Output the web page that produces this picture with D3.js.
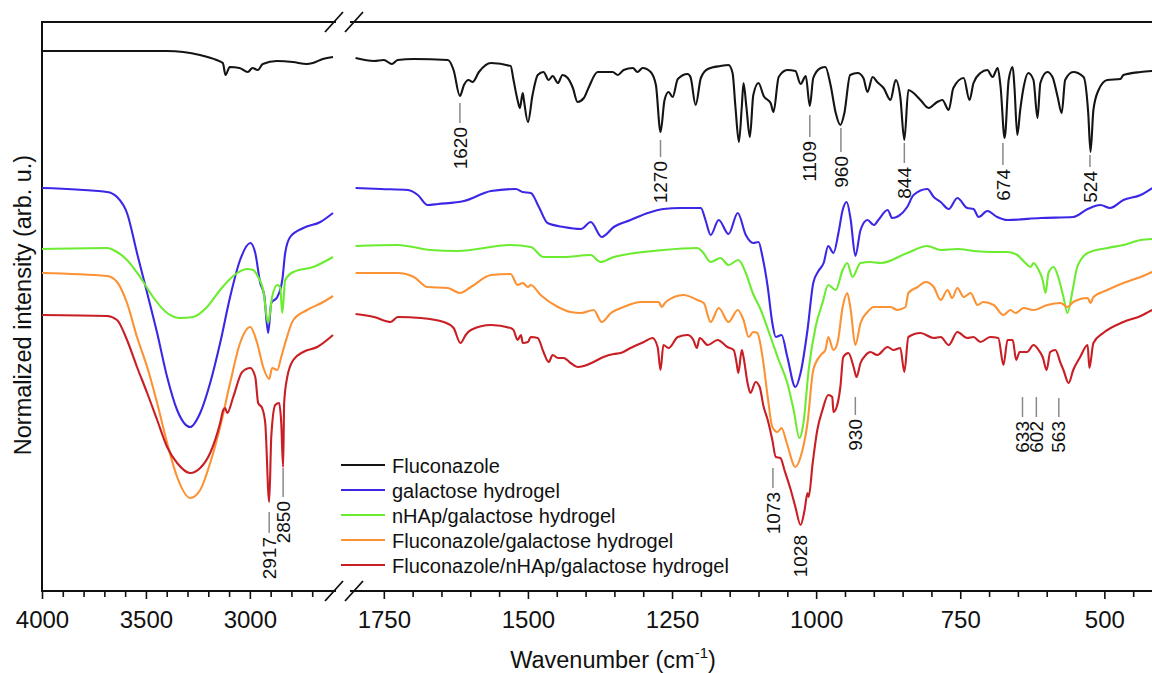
<!DOCTYPE html>
<html>
<head>
<meta charset="utf-8">
<script src="https://cdn.jsdelivr.net/npm/d3@7"></script>
<style>
  body { margin: 0; background: #fff; }
  svg { display: block; font-family: "Liberation Sans", Arial, sans-serif; }
  .tick text { font-size: 24px; fill: #111; }
  .tick line { stroke: #111; stroke-width: 1.6; }
</style>
</head>
<body>
<div id="chart"></div>
<script>
var width = 1152;
var height = 673;

// wavenumber (cm-1), normalized intensity (arb. u.)
var fluconazoleLeft = [[4000,53.9],[3400,53.9],[3240,53.5],[3160,53.0],[3130,52.7],[3117,51.5],[3097,52.3],[3050,52.2],[3010,51.8],[2987,52.2],[2962,52.0],[2938,52.6],[2870,52.9],[2793,52.8],[2726,52.6],[2697,52.7],[2649,53.1],[2600,53.3]];
var fluconazoleRight = [[1799,53.2],[1767,52.9],[1750,53.0],[1736,52.6],[1726,53.0],[1698,53.1],[1639,53.0],[1629,52.0],[1618,49.4],[1611,50.5],[1603,51.0],[1596,50.8],[1585,51.8],[1564,52.7],[1530,52.4],[1525,51.0],[1518,49.0],[1514,48.2],[1509,49.7],[1507,49.0],[1500,46.8],[1492,49.5],[1483,51.5],[1473,51.8],[1464,51.0],[1457,51.4],[1448,50.7],[1440,51.5],[1431,51.2],[1422,50.2],[1414,48.8],[1403,49.2],[1395,50.2],[1379,51.8],[1369,51.8],[1353,51.8],[1344,51.5],[1334,52.0],[1318,52.2],[1310,51.8],[1301,52.2],[1287,51.8],[1278,50.5],[1270,45.8],[1263,49.0],[1256,49.8],[1249,49.3],[1240,51.1],[1223,51.6],[1218,51.3],[1209,48.5],[1200,51.2],[1188,52.1],[1166,52.4],[1152,52.5],[1145,51.7],[1140,48.3],[1134,44.8],[1129,48.3],[1126,50.7],[1121,48.3],[1115,45.3],[1109,49.5],[1100,50.7],[1091,49.4],[1079,48.7],[1074,47.8],[1065,51.3],[1050,52.0],[1036,51.9],[1027,50.6],[1018,51.4],[1011,48.4],[1005,51.2],[992,52.2],[984,52.3],[975,50.5],[966,47.7],[958,46.5],[951,47.7],[941,51.5],[928,51.7],[918,51.2],[911,49.8],[902,51.3],[894,50.8],[883,50.2],[871,49.0],[862,51.0],[854,49.3],[847,45.0],[840,50.0],[831,49.7],[819,49.0],[805,48.2],[790,48.8],[781,49.0],[770,48.0],[762,50.2],[744,51.2],[734,49.0],[727,50.7],[715,51.7],[703,52.0],[694,51.3],[685,52.2],[680,50.3],[673,45.2],[666,51.0],[659,52.3],[656,50.3],[651,45.5],[646,48.0],[640,50.3],[632,51.7],[623,51.0],[616,47.2],[611,50.7],[599,51.8],[590,51.3],[581,49.3],[574,47.7],[568,51.0],[554,51.8],[536,51.3],[528,47.7],[524,43.8],[519,48.0],[510,50.0],[495,51.0],[472,51.1],[467,51.5],[437,51.8],[417,51.9]];

var galactoseLeft = [[4000,40.2],[3687,39.8],[3639,39.3],[3591,37.7],[3543,33.7],[3494,29.7],[3446,25.7],[3398,21.3],[3350,18.0],[3287,16.3],[3239,17.7],[3191,20.7],[3143,24.7],[3095,29.3],[3047,33.0],[2998,34.7],[2974,33.7],[2950,30.7],[2931,29.5],[2912,25.7],[2897,28.7],[2868,29.3],[2844,31.0],[2830,33.7],[2806,35.3],[2743,36.2],[2661,36.8],[2600,37.7]];
var galactoseRight = [[1799,40.2],[1755,40.1],[1708,40.0],[1691,39.5],[1674,38.5],[1656,38.6],[1611,38.9],[1564,39.9],[1521,40.1],[1509,39.8],[1495,39.7],[1481,38.3],[1466,36.7],[1438,36.3],[1408,36.1],[1391,36.8],[1372,35.3],[1351,36.3],[1322,37.0],[1292,37.7],[1265,38.1],[1235,38.2],[1200,38.2],[1192,37.0],[1183,35.5],[1169,37.0],[1152,35.6],[1136,37.7],[1122,35.5],[1109,34.7],[1100,34.8],[1093,33.3],[1084,30.3],[1076,26.7],[1070,25.3],[1060,25.5],[1050,23.3],[1036,20.3],[1027,21.7],[1015,26.0],[1005,30.7],[996,31.9],[987,32.7],[979,34.4],[970,33.7],[961,35.8],[954,38.0],[947,38.8],[940,37.0],[932,33.4],[923,36.0],[911,37.0],[900,36.5],[892,37.0],[876,38.0],[868,37.2],[857,37.4],[842,38.3],[831,39.5],[807,40.1],[796,39.3],[784,38.8],[770,38.1],[755,39.2],[738,38.2],[727,38.1],[718,37.3],[703,37.9],[686,37.3],[668,37.0],[611,37.2],[554,37.3],[529,38.1],[507,38.5],[490,38.2],[467,39.0],[437,39.5],[417,40.2]];

var nhapLeft = [[4000,34.1],[3687,34.2],[3639,33.8],[3591,33.0],[3528,31.3],[3466,29.3],[3398,27.7],[3336,27.2],[3273,27.3],[3206,28.3],[3143,30.0],[3080,31.4],[3013,32.1],[2984,32.0],[2960,31.3],[2936,30.0],[2912,26.7],[2893,29.3],[2868,30.5],[2854,30.3],[2844,27.7],[2830,31.0],[2791,31.8],[2695,32.3],[2600,33.3]];
var nhapRight = [[1799,34.4],[1726,34.5],[1669,34.0],[1622,33.9],[1530,34.5],[1495,34.3],[1473,33.3],[1438,33.3],[1391,33.5],[1374,32.8],[1351,33.3],[1265,34.0],[1206,34.2],[1197,33.8],[1183,32.8],[1166,33.2],[1152,32.5],[1135,33.0],[1122,31.7],[1110,29.7],[1096,28.0],[1079,25.3],[1065,23.0],[1050,20.7],[1039,18.0],[1029,15.2],[1022,16.7],[1013,22.0],[1001,26.3],[989,28.7],[979,30.5],[966,30.0],[954,32.0],[946,32.7],[937,31.3],[923,32.7],[906,32.8],[888,32.7],[842,33.7],[807,34.4],[784,34.0],[755,34.1],[727,33.9],[692,33.8],[668,33.8],[651,33.5],[637,32.7],[628,32.3],[623,32.7],[614,32.0],[607,31.0],[602,29.7],[597,31.7],[588,32.3],[580,31.3],[571,29.3],[564,27.7],[555,30.0],[547,32.3],[529,33.7],[495,34.2],[467,34.5],[437,35.0],[417,35.1]];

var flucoGelLeft = [[4000,31.7],[3687,31.4],[3639,30.8],[3591,28.7],[3543,25.3],[3494,22.3],[3446,18.7],[3398,14.7],[3350,11.3],[3287,9.2],[3239,10.0],[3191,12.7],[3143,16.3],[3095,20.7],[3047,24.7],[2998,26.3],[2965,24.7],[2936,22.3],[2907,21.1],[2893,22.2],[2868,22.0],[2849,23.3],[2830,24.7],[2791,27.0],[2724,28.0],[2647,28.8],[2600,29.4]];
var flucoGelRight = [[1799,31.7],[1726,31.7],[1698,31.3],[1674,30.3],[1639,30.2],[1618,29.7],[1599,30.3],[1564,31.5],[1530,31.6],[1518,30.5],[1509,30.7],[1500,30.3],[1495,30.5],[1478,29.5],[1448,28.3],[1426,27.8],[1408,27.7],[1386,28.0],[1372,26.8],[1356,27.7],[1334,28.3],[1304,28.8],[1273,28.8],[1268,28.3],[1261,28.8],[1230,29.5],[1206,29.0],[1195,28.7],[1183,26.8],[1169,28.2],[1152,26.8],[1136,28.0],[1126,27.0],[1117,25.3],[1109,25.8],[1102,25.7],[1093,23.3],[1084,19.3],[1076,16.3],[1067,15.8],[1060,16.2],[1051,14.7],[1036,12.3],[1027,13.3],[1015,16.7],[1005,22.0],[992,23.5],[984,24.0],[979,25.3],[970,24.0],[963,24.7],[954,28.3],[946,29.7],[940,28.0],[932,24.5],[923,26.7],[911,27.8],[900,28.3],[871,28.3],[859,28.0],[845,28.3],[840,29.7],[824,30.3],[810,30.8],[796,30.3],[784,29.0],[772,30.0],[764,29.2],[755,30.2],[744,29.3],[732,29.7],[720,28.5],[710,28.8],[692,28.5],[675,27.5],[663,28.0],[654,27.7],[640,28.2],[623,28.0],[599,28.5],[576,28.7],[564,28.3],[554,28.8],[529,29.2],[524,28.7],[519,29.3],[495,30.0],[467,30.7],[437,31.3],[417,31.8]];

var flucoNhapLeft = [[4000,27.5],[3687,27.4],[3639,27.0],[3591,25.0],[3543,22.3],[3494,19.7],[3446,17.0],[3398,14.3],[3350,12.7],[3287,11.7],[3239,12.2],[3191,13.7],[3143,16.7],[3128,18.0],[3119,18.2],[3109,17.7],[3080,19.3],[3037,21.8],[2998,22.2],[2974,21.3],[2960,18.7],[2941,18.2],[2926,16.7],[2907,8.8],[2897,15.3],[2878,18.5],[2859,18.7],[2849,16.7],[2840,12.3],[2835,18.7],[2820,21.3],[2791,23.0],[2743,23.8],[2676,24.3],[2600,25.5]];
var flucoNhapRight = [[1799,27.6],[1767,27.3],[1738,26.8],[1726,27.3],[1686,27.2],[1646,26.8],[1629,26.2],[1617,24.7],[1608,25.5],[1599,26.0],[1564,26.5],[1530,26.2],[1525,26.0],[1518,25.0],[1512,25.5],[1509,24.7],[1500,24.8],[1495,25.3],[1483,25.2],[1473,23.8],[1464,22.8],[1457,23.5],[1448,23.2],[1438,23.2],[1426,22.7],[1414,22.3],[1403,22.4],[1386,22.8],[1369,23.3],[1351,23.6],[1339,23.7],[1322,24.2],[1299,24.8],[1284,25.2],[1275,24.3],[1270,22.0],[1265,24.5],[1256,24.2],[1240,25.3],[1223,25.5],[1213,25.0],[1207,24.2],[1202,25.2],[1188,24.5],[1171,25.0],[1154,24.3],[1143,24.0],[1138,22.7],[1135,21.7],[1129,24.0],[1126,23.3],[1119,20.7],[1114,19.7],[1105,20.8],[1098,20.3],[1091,18.3],[1084,17.0],[1076,15.0],[1070,13.3],[1062,13.2],[1055,12.0],[1044,10.0],[1036,8.3],[1027,6.5],[1020,8.0],[1015,9.7],[1013,9.3],[1006,12.7],[998,16.0],[989,18.0],[979,19.5],[972,19.3],[970,17.8],[965,18.2],[958,20.3],[953,23.3],[944,23.7],[935,22.3],[930,21.3],[923,22.7],[914,23.5],[906,23.8],[894,23.5],[876,24.3],[866,24.0],[854,24.2],[847,21.8],[840,25.3],[819,25.7],[796,25.2],[784,25.3],[770,24.5],[755,25.8],[738,25.2],[727,25.3],[715,24.8],[698,25.3],[684,25.2],[675,22.5],[668,25.0],[659,25.0],[653,23.0],[647,23.8],[634,23.8],[623,24.5],[614,24.0],[607,23.3],[600,22.0],[594,23.8],[585,24.0],[576,22.7],[571,22.0],[562,20.7],[554,22.0],[542,23.3],[529,24.5],[526,22.2],[519,24.7],[502,25.7],[467,26.8],[437,27.4],[417,28.0]];

var seriesNames = ['Fluconazole', 'galactose hydrogel', 'nHAp/galactose hydrogel',
  'Fluconazole/galactose hydrogel', 'Fluconazole/nHAp/galactose hydrogel'];
var seriesColors = ['#141414', '#3b27e6', '#6cec30', '#fc9234', '#c81e24'];
var seriesLeft = [fluconazoleLeft, galactoseLeft, nhapLeft, flucoGelLeft, flucoNhapLeft];
var seriesRight = [fluconazoleRight, galactoseRight, nhapRight, flucoGelRight, flucoNhapRight];

// peak label: text, wavenumber, line top, line bottom (intensity units)
var peakLabels = [
  ['2917', 2907, 7.8, 5.7],
  ['2850', 2840, 12.2, 9.3],
  ['1620', 1618, 48.7, 46.7],
  ['1270', 1270, 45.0, 43.3],
  ['1109', 1011, 47.5, 45.3],
  ['960', 957, 46.2, 43.8],
  ['844', 847, 44.7, 42.7],
  ['674', 676, 44.7, 42.5],
  ['524', 525, 43.5, 42.3],
  ['1073', 1075, 12.2, 10.2],
  ['1028', 1027, 5.9, 5.9],
  ['930', 932, 19.3, 17.5],
  ['633', 642, 19.3, 17.3],
  ['602', 618, 19.3, 17.3],
  ['563', 579, 19.2, 17.3]
];

var leftMajor = [4000, 3500, 3000];
var leftMinor = [3900, 3800, 3700, 3600, 3400, 3300, 3200, 3100, 2900, 2800, 2700];
var rightMajor = [1750, 1500, 1250, 1000, 750, 500];
var rightMinor = [1700, 1650, 1600, 1550, 1450, 1400, 1350, 1300, 1200, 1150, 1100, 1050,
  950, 900, 850, 800, 700, 650, 600, 550, 450];

var axisY = 591;
var topY = 22;

var svg = d3.select('#chart').append('svg')
  .attr('width', width)
  .attr('height', height);

var xLeft = d3.scaleLinear().domain([4000, 2600]).range([42, 333]);
var xRight = d3.scaleLinear().domain([1800, 400]).range([355, 1162]);
var y = d3.scaleLinear().domain([0, 57]).range([590, 20]);

function drawAxis(scale, major, minor) {
  svg.append('g')
    .attr('transform', 'translate(0,' + axisY + ')')
    .call(d3.axisBottom(scale).tickValues(major).tickSize(8).tickPadding(12).tickFormat(d3.format('d')))
    .call(g => g.select('.domain').remove());
  svg.append('g')
    .attr('transform', 'translate(0,' + axisY + ')')
    .call(d3.axisBottom(scale).tickValues(minor).tickSize(6).tickFormat(''))
    .call(g => g.select('.domain').remove());
}
drawAxis(xLeft, leftMajor, leftMinor);
drawAxis(xRight, rightMajor, rightMinor);

// frame with axis break
var frame = svg.append('g').attr('stroke', '#111').attr('stroke-width', 2).attr('fill', 'none');
frame.append('path').attr('d', 'M42,' + topY + 'V' + axisY);
frame.append('path').attr('d', 'M41,' + topY + 'H336 M350,' + topY + 'H1152');
frame.append('path').attr('d', 'M41,' + axisY + 'H336 M350,' + axisY + 'H1152');
[topY, axisY].forEach(function(yy) {
  frame.append('path').attr('stroke-width', 1.8)
    .attr('d', 'M325,' + (yy + 10) + 'L343,' + (yy - 10) + ' M345,' + (yy + 10) + 'L363,' + (yy - 10));
});

var lineLeft = d3.line().x(d => xLeft(d[0])).y(d => y(d[1])).curve(d3.curveMonotoneX);
var lineRight = d3.line().x(d => xRight(d[0])).y(d => y(d[1])).curve(d3.curveMonotoneX);

var spectra = svg.append('g').attr('fill', 'none').attr('stroke-width', 2.1).attr('stroke-linejoin', 'round');
seriesNames.forEach(function(name, i) {
  spectra.append('path').attr('d', lineLeft(seriesLeft[i])).attr('stroke', seriesColors[i]);
  spectra.append('path').attr('d', lineRight(seriesRight[i])).attr('stroke', seriesColors[i]);
});

// peak annotations
var ann = svg.append('g');
peakLabels.forEach(function(p) {
  var px = p[1] > 2000 ? xLeft(p[1]) : xRight(p[1]);
  var y0 = y(p[2]), y1 = y(p[3]);
  if (y1 > y0) {
    ann.append('line')
      .attr('x1', px).attr('x2', px)
      .attr('y1', y0).attr('y2', y1)
      .attr('stroke', '#8a8a8a').attr('stroke-width', 1.5);
  }
  ann.append('text')
    .attr('transform', 'translate(' + px + ',' + (y1 + 4) + ') rotate(-90)')
    .attr('text-anchor', 'end')
    .attr('dy', '0.35em')
    .attr('font-size', 19)
    .attr('fill', '#111')
    .text(p[0]);
});

// legend
var legend = svg.append('g').attr('transform', 'translate(341,465)');
seriesNames.forEach(function(name, i) {
  var row = legend.append('g').attr('transform', 'translate(0,' + (i * 25) + ')');
  row.append('line').attr('x1', 0).attr('x2', 44).attr('y1', 0).attr('y2', 0)
    .attr('stroke', seriesColors[i]).attr('stroke-width', 2.2);
  row.append('text').attr('x', 51).attr('y', 8)
    .attr('font-size', 20).attr('fill', '#111').text(name);
});

// axis titles
var xt = svg.append('text')
  .attr('x', 613).attr('y', 668)
  .attr('text-anchor', 'middle')
  .attr('font-size', 23.5).attr('fill', '#111');
xt.append('tspan').text('Wavenumber (cm');
xt.append('tspan').attr('font-size', 15).attr('dy', -10).text('-1');
xt.append('tspan').attr('dy', 10).text(')');

svg.append('text')
  .attr('transform', 'translate(31,305) rotate(-90)')
  .attr('text-anchor', 'middle')
  .attr('font-size', 23.5).attr('fill', '#111')
  .text('Normalized intensity (arb. u.)');
</script>
</body>
</html>
